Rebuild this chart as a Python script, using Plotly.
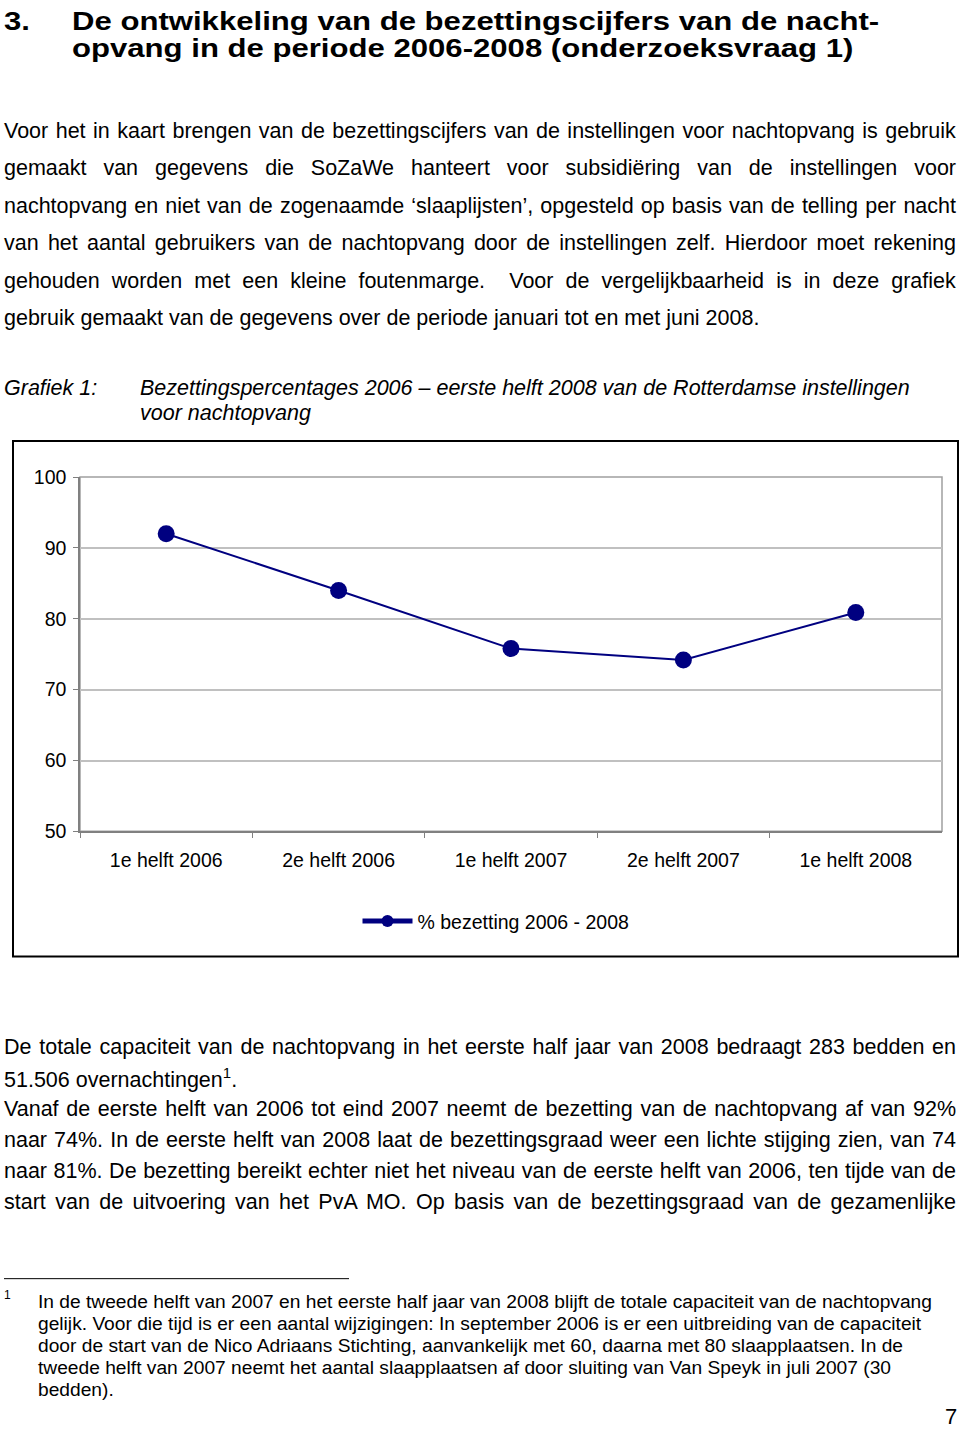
import json
import plotly.graph_objects as go

W, H = 960, 1435

categories = ["1e helft 2006", "2e helft 2006", "1e helft 2007", "2e helft 2007", "1e helft 2008"]
bezetting = [92.0, 84.0, 75.8, 74.2, 80.9]
series_name = "% bezetting 2006 - 2008"
y_ticks = [50, 60, 70, 80, 90, 100]

heading = ["De ontwikkeling van de bezettingscijfers van de nacht-",
           "opvang in de periode 2006-2008 (onderzoeksvraag 1)"]
para1 = [
    "Voor het in kaart brengen van de bezettingscijfers van de instellingen voor nachtopvang is gebruik",
    "gemaakt van gegevens die SoZaWe hanteert voor subsidiëring van de instellingen voor",
    "nachtopvang en niet van de zogenaamde ‘slaaplijsten’, opgesteld op basis van de telling per nacht",
    "van het aantal gebruikers van de nachtopvang door de instellingen zelf. Hierdoor moet rekening",
    "gehouden worden met een kleine foutenmarge.  Voor de vergelijkbaarheid is in deze grafiek",
    "gebruik gemaakt van de gegevens over de periode januari tot en met juni 2008.",
]
para1_justified = [True, True, True, True, True, False]
para2 = [
    "De totale capaciteit van de nachtopvang in het eerste half jaar van 2008 bedraagt 283 bedden en",
    "51.506 overnachtingen<sup>1</sup>.",
    "Vanaf de eerste helft van 2006 tot eind 2007 neemt de bezetting van de nachtopvang af van 92%",
    "naar 74%. In de eerste helft van 2008 laat de bezettingsgraad weer een lichte stijging zien, van 74",
    "naar 81%. De bezetting bereikt echter niet het niveau van de eerste helft van 2006, ten tijde van de",
    "start van de uitvoering van het PvA MO. Op basis van de bezettingsgraad van de gezamenlijke",
]
para2_justified = [True, False, True, True, True, True]
footnote = [
    "In de tweede helft van 2007 en het eerste half jaar van 2008 blijft de totale capaciteit van de nachtopvang",
    "gelijk. Voor die tijd is er een aantal wijzigingen: In september 2006 is er een uitbreiding van de capaciteit",
    "door de start van de Nico Adriaans Stichting, aanvankelijk met 60, daarna met 80 slaapplaatsen. In de",
    "tweede helft van 2007 neemt het aantal slaapplaatsen af door sluiting van Van Speyk in juli 2007 (30",
    "bedden).",
]

FONT = "Liberation Sans, Arial, sans-serif"
RIGHT_EDGE = 956

def px(x):
    return x / W

def cy(y):
    # page position (px from top) -> layout position, compensating the photo's vertical framing
    return max(0.0, min(H, (y - 11.2) / 0.984))

def py(y):
    return 1 - cy(y) / H

def pyc(c):
    return 1 - c / H

fig = go.Figure()
fig.add_trace(go.Scatter(
    x=categories, y=bezetting, mode="lines+markers", name=series_name,
    line=dict(color="#000080", width=2),
    marker=dict(color="#000080", size=17),
))

ann = []
justify = {}
scalex = {}
def text(x, yfrac, s, size, bold=False, italic=False, anchor="left", just=False, sx=1.0):
    if just:
        justify[str(len(ann))] = RIGHT_EDGE
    if sx != 1.0:
        scalex[str(len(ann))] = sx
    ann.append(dict(
        x=px(x), y=yfrac, xref="paper", yref="paper", text=("<b>%s</b>" % s) if bold else s,
        showarrow=False, xanchor=anchor, yanchor="middle", align=anchor,
        borderpad=0, borderwidth=0,
        font=dict(family=FONT, size=size, color="black", style="italic" if italic else "normal"),
    ))

text(4, pyc(10.5), "3.", 25.5, bold=True, sx=1.22)
text(72, pyc(10.5), heading[0], 25.5, bold=True, sx=1.22)
text(72, pyc(37.5), heading[1], 25.5, bold=True, sx=1.22)
for i, s in enumerate(para1):
    text(4, py(131 + i * 37.4), s, 21.5, just=para1_justified[i])
text(4, py(388), "Grafiek 1:", 21.5, italic=True)
text(140, py(388), "Bezettingspercentages 2006 – eerste helft 2008 van de Rotterdamse instellingen", 21.5, italic=True)
text(140, py(413), "voor nachtopvang", 21.5, italic=True)
for i, s in enumerate(para2):
    text(4, py(1046 + i * 31), s, 21.5, just=para2_justified[i])
text(4, py(1294), "1", 12)
for i, s in enumerate(footnote):
    text(38, py(1301 + i * 22), s, 19.2)
text(957, pyc(1427.5), "7", 22, anchor="right")

shapes = [
    dict(type="rect", xref="paper", yref="paper", x0=px(13), x1=px(958), y0=py(441), y1=py(956),
         line=dict(color="black", width=2), fillcolor="rgba(0,0,0,0)"),
    dict(type="line", xref="paper", yref="paper", x0=px(4), x1=px(349), y0=py(1278), y1=py(1278),
         line=dict(color="black", width=1)),
    dict(type="rect", xref="x domain", yref="y domain", x0=0, x1=1, y0=0, y1=1,
         line=dict(color="#a0a0a0", width=1.5), layer="below"),
]

fig.update_layout(
    width=W, height=H, margin=dict(l=0, r=0, t=0, b=0),
    paper_bgcolor="white", plot_bgcolor="white",
    annotations=ann, shapes=shapes,
    showlegend=True,
    legend=dict(x=px(496), y=py(921), xanchor="center", yanchor="middle", orientation="h",
                font=dict(family=FONT, size=19.5, color="black"), itemsizing="constant",
                itemwidth=50, bgcolor="rgba(0,0,0,0)"),
    xaxis=dict(domain=[px(80), px(942)], range=[-0.5, 4.5], type="category",
               showgrid=False, showline=True, linecolor="#808080", linewidth=1.5, mirror=False,
               ticks="outside", tickson="boundaries", ticklen=5, tickcolor="#808080",
               ticklabelstandoff=10,
               tickfont=dict(family=FONT, size=19.5, color="black"), fixedrange=True),
    yaxis=dict(domain=[py(831), py(477)], range=[50, 100], tickvals=y_ticks,
               showgrid=True, gridcolor="#c0c0c0", gridwidth=1.5,
               showline=True, linecolor="#808080", linewidth=1.5, mirror=False,
               ticks="outside", ticklen=5, tickcolor="#808080", zeroline=False,
               ticklabelstandoff=3,
               tickfont=dict(family=FONT, size=19.5, color="black"), fixedrange=True),
)

post = """
document.documentElement.style.margin='0';
document.documentElement.style.padding='0';
document.body.style.margin='0';
document.body.style.padding='0';
document.body.style.overflow='hidden';
var gd = document.getElementById('{plot_id}');
var J = %s;
var S = %s;
function fixText(){
  var groups = gd.querySelectorAll('g.annotation');
  groups.forEach(function(g){
    var idx = g.getAttribute('data-index');
    var t = g.querySelector('text.annotation-text');
    if(!t) return;
    var s = 1;
    if(idx in S){
      s = S[idx];
      var x0 = parseFloat(t.getAttribute('x')) || 0;
      t.setAttribute('transform', 'matrix(' + s + ',0,0,1,' + (x0 * (1 - s)) + ',0)');
    }
    if(!(idx in J)) return;
    t.style.wordSpacing = '0px';
    var n = (t.textContent.match(/ /g) || []).length;
    if(n === 0) return;
    var r = t.getBoundingClientRect();
    var extra = (J[idx] - r.right) / n / s;
    if(extra > 0) t.style.wordSpacing = extra + 'px';
  });
}
fixText();
setTimeout(fixText, 50);
if(gd.on) gd.on('plotly_afterplot', fixText);
""" % (json.dumps(justify), json.dumps(scalex))

fig.write_html("out.html", post_script=post, config={"displayModeBar": False})
